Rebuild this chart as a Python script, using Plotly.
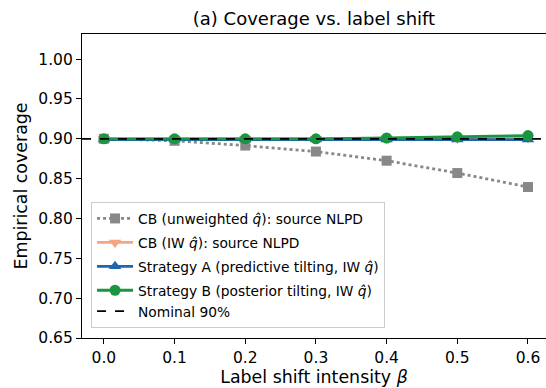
import plotly.graph_objects as go

beta = [0.0, 0.1, 0.2, 0.3, 0.4, 0.5, 0.6]
cb_unweighted = [0.900, 0.8975, 0.8915, 0.884, 0.8725, 0.857, 0.8395]
cb_iw = [0.900, 0.900, 0.900, 0.900, 0.9005, 0.9005, 0.901]
strategy_a = [0.899, 0.899, 0.899, 0.899, 0.899, 0.899, 0.899]
strategy_b = [0.900, 0.900, 0.900, 0.900, 0.901, 0.9025, 0.904]
nominal = 0.90

names = [
    "CB (unweighted <i>q̂</i>): source NLPD",
    "CB (IW <i>q̂</i>): source NLPD",
    "Strategy A (predictive tilting, IW <i>q̂</i>)",
    "Strategy B (posterior tilting, IW <i>q̂</i>)",
    "Nominal 90%",
]

fig = go.Figure()
fig.add_trace(go.Scatter(x=beta, y=cb_unweighted, name=names[0], mode="lines+markers",
                         legendgroup="g0",
                         line=dict(color="#888888", width=2.8, dash="dot"),
                         marker=dict(symbol="square", size=10, color="#888888")))
fig.add_trace(go.Scatter(x=beta, y=cb_iw, name=names[1], mode="lines+markers",
                         legendgroup="g1",
                         line=dict(color="#f4a582", width=2.8),
                         marker=dict(symbol="triangle-down", size=11, color="#f4a582")))
fig.add_trace(go.Scatter(x=beta, y=strategy_a, name=names[2], mode="lines+markers",
                         legendgroup="g2",
                         line=dict(color="#2166ac", width=2.8),
                         marker=dict(symbol="triangle-up", size=11, color="#2166ac")))
fig.add_trace(go.Scatter(x=beta, y=strategy_b, name=names[3], mode="lines+markers",
                         legendgroup="g3",
                         line=dict(color="#1a9641", width=2.8),
                         marker=dict(symbol="circle", size=11, color="#1a9641")))
fig.add_hline(y=nominal, line=dict(color="black", width=1.8, dash="dash"), layer="above")
fig.add_trace(go.Scatter(x=[None], y=[None], name=names[4], mode="lines",
                         legendgroup="g3",
                         line=dict(color="black", width=1.8, dash="dash")))

axis_common = dict(showline=True, linecolor="black", linewidth=1.2,
                   ticks="outside", ticklen=5, tickcolor="black", showgrid=False,
                   zeroline=False, tickfont=dict(size=15.5, color="black"))

fig.update_layout(
    width=546, height=388,
    margin=dict(l=82, r=0, t=34, b=50),
    paper_bgcolor="white", plot_bgcolor="white",
    font=dict(family="DejaVu Sans", color="black"),
    title=dict(text="(a) Coverage vs. label shift", x=(82 + 546) / 2 / 546, xanchor="center",
               y=1 - 19 / 388, yanchor="middle", font=dict(size=18)),
    xaxis=dict(range=[-0.031, 0.6255], tickvals=beta, mirror=True,
               ticktext=[f"{v:.1f}" for v in beta],
               title=dict(text="Label shift intensity <i>β</i>", font=dict(size=17.4), standoff=3),
               **axis_common),
    yaxis=dict(range=[0.65, 1.0315], tickvals=[0.65, 0.70, 0.75, 0.80, 0.85, 0.90, 0.95, 1.00],
               ticktext=["0.65", "0.70", "0.75", "0.80", "0.85", "0.90", "0.95", "1.00"],
               mirror=False,
               title=dict(text="Empirical coverage", font=dict(size=17.4), standoff=6),
               **axis_common),
    legend=dict(x=0.0195, y=0.033, xanchor="left", yanchor="bottom",
                bgcolor="rgba(255,255,255,0.8)", bordercolor="#cccccc", borderwidth=1,
                font=dict(size=13.8), tracegroupgap=3, itemwidth=36),
    showlegend=True,
)

fig.write_html("out.html")
